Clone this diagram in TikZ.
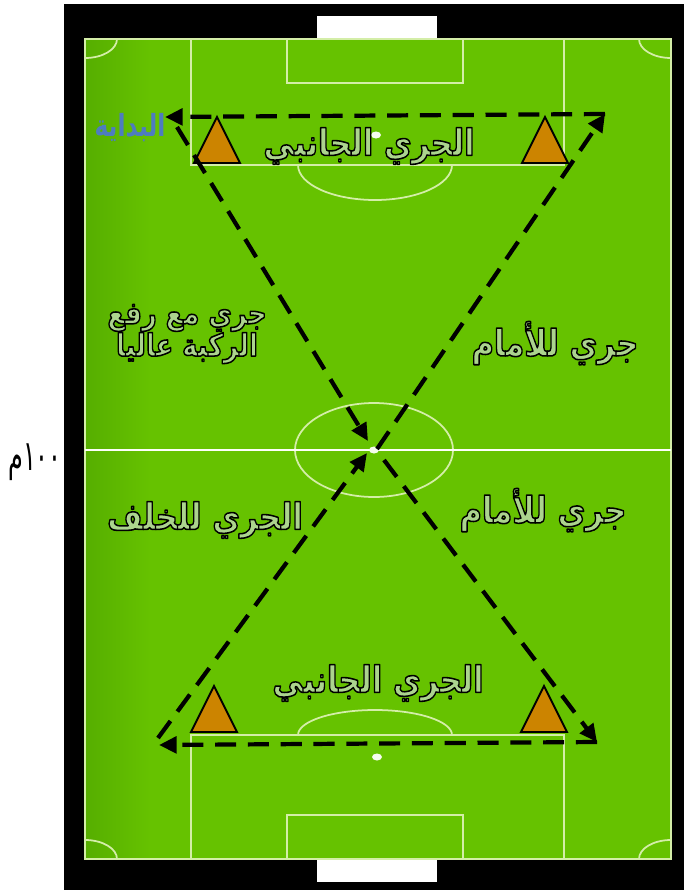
\documentclass[tikz,border=0pt]{standalone}
\usepackage{fontspec}
\usepackage{graphicx}
\newfontfamily\arabicfont[Script=Arabic,BoldFont={DejaVu Sans Bold}]{DejaVu Sans}
\TeXXeTstate=1
\usetikzlibrary{arrows.meta}
\definecolor{pitch}{RGB}{102,194,0}
\definecolor{pitchdark}{RGB}{86,174,0}
\definecolor{chalk}{RGB}{212,238,168}
\definecolor{cone}{RGB}{204,132,0}
\definecolor{leaf}{RGB}{172,212,142}
\definecolor{startblue}{RGB}{78,124,192}
\tikzset{
  chalkline/.style={draw=chalk, line width=1.5pt},
  marker/.style={draw=black, line width=1.6pt, fill=cone, line join=miter},
  run/.style={draw=black, line width=3.6pt, dash pattern=on 18pt off 10pt,
              -{Triangle[length=15pt,width=14pt]}},
  drill/.style={font=\arabicfont\bfseries\fontsize{26}{27}\selectfont, text=leaf,
              inner sep=0pt, align=center},
}
% outlined label: fill with the text colour, black stroke round the glyphs
\newcommand{\rtltext}[1]{\scalebox{1}[1.2]{\special{pdf:literal direct 2 Tr 1.1 w 1 j 0 0 0 RG}\beginR #1\endR\special{pdf:literal direct 0 Tr}}}

\begin{document}
\begin{tikzpicture}[x=0.03cm, y=-0.03cm]
  \useasboundingbox (0,0) rectangle (684,890);
  % pitch
  \fill[black] (64,4) rectangle (684,890);
  \fill[pitch] (85,39) rectangle (671,859);
  \shade[left color=pitchdark, right color=pitch] (85,39) rectangle (150,859);
  \fill[white] (317,16) rectangle (437,38);
  \fill[white] (317,860) rectangle (437,882);
  \begin{scope}
    \clip (85,39) rectangle (671,859);
    \foreach \cx/\cy in {85/39, 671/39, 85/859, 671/859}
      \draw[chalkline] (\cx,\cy) ellipse [x radius=32, y radius=19];
  \end{scope}
  \draw[chalkline] (85,39) rectangle (671,859);
  \draw[chalkline] (191,39) rectangle (564,165);
  \draw[chalkline] (191,735) rectangle (564,859);
  \draw[chalkline] (287,39) rectangle (463,83);
  \draw[chalkline] (287,815) rectangle (463,859);
  \draw[chalkline] (298,165) arc [start angle=180, end angle=0, x radius=77, y radius=35];
  \draw[chalkline] (298,735) arc [start angle=180, end angle=360, x radius=77, y radius=25];
  \draw[chalkline] (374,450) ellipse [x radius=79, y radius=47];
  \draw[draw=white!92!chalk, line width=1.8pt] (85,450) -- (671,450);
  \foreach \sx/\sy in {374/450, 376/135, 377/757}
    \fill[white!80!chalk] (\sx,\sy) ellipse [x radius=5, y radius=3.5];
  % cones
  \foreach \x/\y in {217/117, 545/117, 214/686, 544/686}
    \draw[marker] (\x-23,\y+46) -- (\x,\y) -- (\x+23,\y+46) -- cycle;
  % route
  \coordinate (topright) at (605,114);
  \coordinate (topleft) at (165,117);
  \coordinate (startpt) at (177,127);
  \coordinate (midin) at (368,441);
  \coordinate (midup) at (377,449);
  \coordinate (middown) at (384,460);
  \coordinate (midback) at (367,453);
  \coordinate (botright) at (597,742);
  \coordinate (botleft) at (159,745);
  \coordinate (botstart) at (158,738);
  \draw[run] (topright) -- (topleft);
  \draw[run] (startpt) -- (midin);
  \draw[run] (middown) -- (botright);
  \draw[run] (botright) -- (botleft);
  \draw[run] (botstart) -- (midback);
  \draw[run] (midup) -- (topright);
  % labels
  \node[font=\arabicfont\bfseries\fontsize{20}{22}\selectfont, text=startblue, inner sep=0pt] (start) at (130,128)
    {\scalebox{1}[1.3]{\beginR البداية\endR}};
  \node[drill] (lateraltop) at (369,146) {\rtltext{الجري الجانبي}};
  \node[drill, font=\arabicfont\bfseries\fontsize{22}{22.5}\selectfont] (knees) at (187,334)
    {\rtltext{جري مع رفع}\\\rtltext{الركبة عاليا}};
  \node[drill] (forwardtop) at (555,343) {\rtltext{جري للأمام}};
  \node[drill] (forwardbot) at (543,510) {\rtltext{جري للأمام}};
  \node[drill] (backward) at (205,520) {\rtltext{الجري للخلف}};
  \node[drill] (lateralbot) at (378,683) {\rtltext{الجري الجانبي}};
  \node[font=\arabicfont\fontsize{24}{26}\selectfont, inner sep=0pt] (distance) at (35,462)
    {\scalebox{0.85}[1.5]{\beginR ١٠٠م\endR}};
\end{tikzpicture}
\end{document}
